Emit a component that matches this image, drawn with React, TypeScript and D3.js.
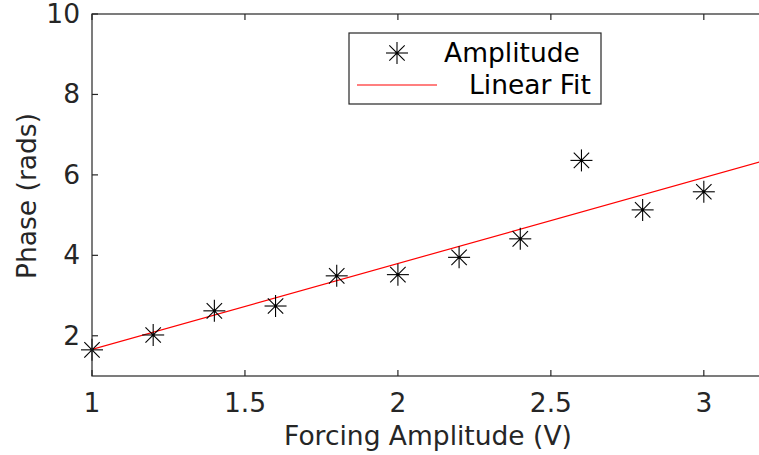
import React from "react";
import * as d3 from "d3";

const forcing = [1, 1.2, 1.4, 1.6, 1.8, 2, 2.2, 2.4, 2.6, 2.8, 3];
const phase = [1.65, 2.02, 2.62, 2.74, 3.49, 3.52, 3.95, 4.41, 6.36, 5.13, 5.58];
const fitX = [1, 3.2];
const fitY = [1.66, 6.36];
const xTicks = [1, 1.5, 2, 2.5, 3];
const yTicks = [2, 4, 6, 8, 10];
const legendLabels = ["Amplitude", "Linear Fit"];

const W = 759, H = 455;
const left = 92, right = 765, top = 14, bottom = 376;
const axisColor = "#262626";
const font = "'DejaVu Sans', sans-serif";
const fs = 26.5;

function Star({ x, y, r = 11 }: { x: number; y: number; r?: number }) {
  const d = r * 0.7;
  return (
    <g stroke="#000" strokeWidth={1.1}>
      <line x1={x - r} y1={y} x2={x + r} y2={y} />
      <line x1={x} y1={y - r} x2={x} y2={y + r} />
      <line x1={x - d} y1={y - d} x2={x + d} y2={y + d} />
      <line x1={x - d} y1={y + d} x2={x + d} y2={y - d} />
      <circle cx={x} cy={y} r={1.6} fill="#000" stroke="none" />
    </g>
  );
}

export default function App() {
  const xs = d3.scaleLinear().domain([1, 3.2]).range([left, right]);
  const ys = d3.scaleLinear().domain([1, 10]).range([bottom, top]);
  const line = d3.line<number>().x((_, i) => xs(fitX[i])).y((d) => ys(d));
  const tl = 6;
  return (
    <svg width={W} height={H} style={{ position: "absolute", left: 0, top: 0, background: "#fff" }}>
      <rect x={0} y={0} width={W} height={H} fill="#fff" />
      <defs>
        <clipPath id="plot">
          <rect x={left} y={top} width={right - left} height={bottom - top} />
        </clipPath>
      </defs>
      <path d={line(fitY) || ""} stroke="#ff0000" strokeWidth={1.2} fill="none" clipPath="url(#plot)" />
      {forcing.map((f, i) => (
        <Star key={i} x={xs(f)} y={ys(phase[i])} />
      ))}
      <g stroke={axisColor} strokeWidth={1.2} fill="none">
        <rect x={left} y={top} width={right - left} height={bottom - top} />
        {xTicks.map((t) => (
          <g key={"x" + t}>
            <line x1={xs(t)} x2={xs(t)} y1={bottom} y2={bottom - tl} />
            <line x1={xs(t)} x2={xs(t)} y1={top} y2={top + tl} />
          </g>
        ))}
        {yTicks.map((t) => (
          <g key={"y" + t}>
            <line x1={left} x2={left + tl} y1={ys(t)} y2={ys(t)} />
            <line x1={right} x2={right - tl} y1={ys(t)} y2={ys(t)} />
          </g>
        ))}
      </g>
      <g fill={axisColor} fontFamily={font} fontSize={fs}>
        {xTicks.map((t) => (
          <text key={"xl" + t} x={xs(t)} y={bottom + 36} textAnchor="middle">
            {String(t)}
          </text>
        ))}
        {yTicks.map((t) => (
          <text key={"yl" + t} x={80} y={ys(t) + 9} textAnchor="end">
            {String(t)}
          </text>
        ))}
        <text x={428} y={445} textAnchor="middle">Forcing Amplitude (V)</text>
        <text transform={`translate(36,196) rotate(-90)`} textAnchor="middle">Phase (rads)</text>
      </g>
      <g>
        <rect x={349} y={33} width={252} height={71} fill="#fff" stroke={axisColor} strokeWidth={1.2} />
        <Star x={397} y={53} r={11} />
        <line x1={357} x2={437} y1={85} y2={85} stroke="#ff0000" strokeWidth={1.2} />
        <text x={444} y={62} fontFamily={font} fontSize={fs} fill="#000">{legendLabels[0]}</text>
        <text x={469} y={94} fontFamily={font} fontSize={fs} fill="#000">{legendLabels[1]}</text>
      </g>
    </svg>
  );
}
